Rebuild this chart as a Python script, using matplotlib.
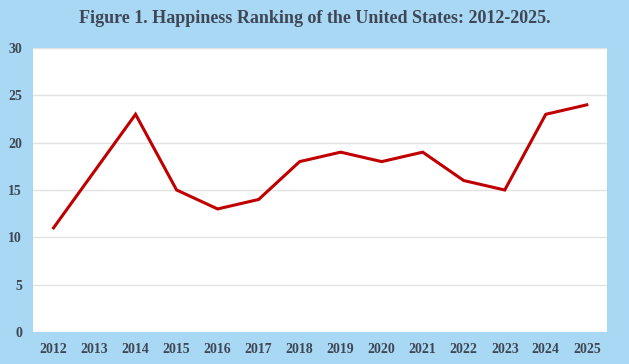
import matplotlib.pyplot as plt

years = [2012, 2013, 2014, 2015, 2016, 2017, 2018, 2019, 2020, 2021, 2022, 2023, 2024, 2025]
ranking = [11, 17, 23, 15, 13, 14, 18, 19, 18, 19, 16, 15, 23, 24]
y_ticks = [0, 5, 10, 15, 20, 25, 30]

bg = '#a8d8f3'
txt = '#3f4756'

plt.rcParams['font.family'] = ['Liberation Serif', 'DejaVu Serif']

fig = plt.figure(figsize=(6.29, 3.64), dpi=100, facecolor=bg)
ax = fig.add_axes([0.0525, 0.088, 0.913, 0.78])
ax.set_facecolor('white')

ax.plot(years, ranking, color='#c00000', linewidth=2.2, solid_joinstyle='miter')

ax.set_xlim(2011.5, 2025.5)
ax.set_ylim(0, 30)
ax.set_xticks(years)
ax.set_xticklabels([str(y) for y in years])
ax.set_yticks(y_ticks)
ax.grid(axis='y', color='#e3e3e3', linewidth=1)
ax.set_axisbelow(True)
for s in ax.spines.values():
    s.set_visible(False)
ax.tick_params(length=0, labelsize=10, labelcolor=txt, pad=8)
for lab in ax.get_xticklabels() + ax.get_yticklabels():
    lab.set_fontweight('bold')

fig.text(0.5, 0.95, 'Figure 1. Happiness Ranking of the United States: 2012-2025.',
         ha='center', va='center', fontsize=13, fontweight='bold', color=txt)

fig.savefig('out.png', dpi=100, facecolor=bg)
